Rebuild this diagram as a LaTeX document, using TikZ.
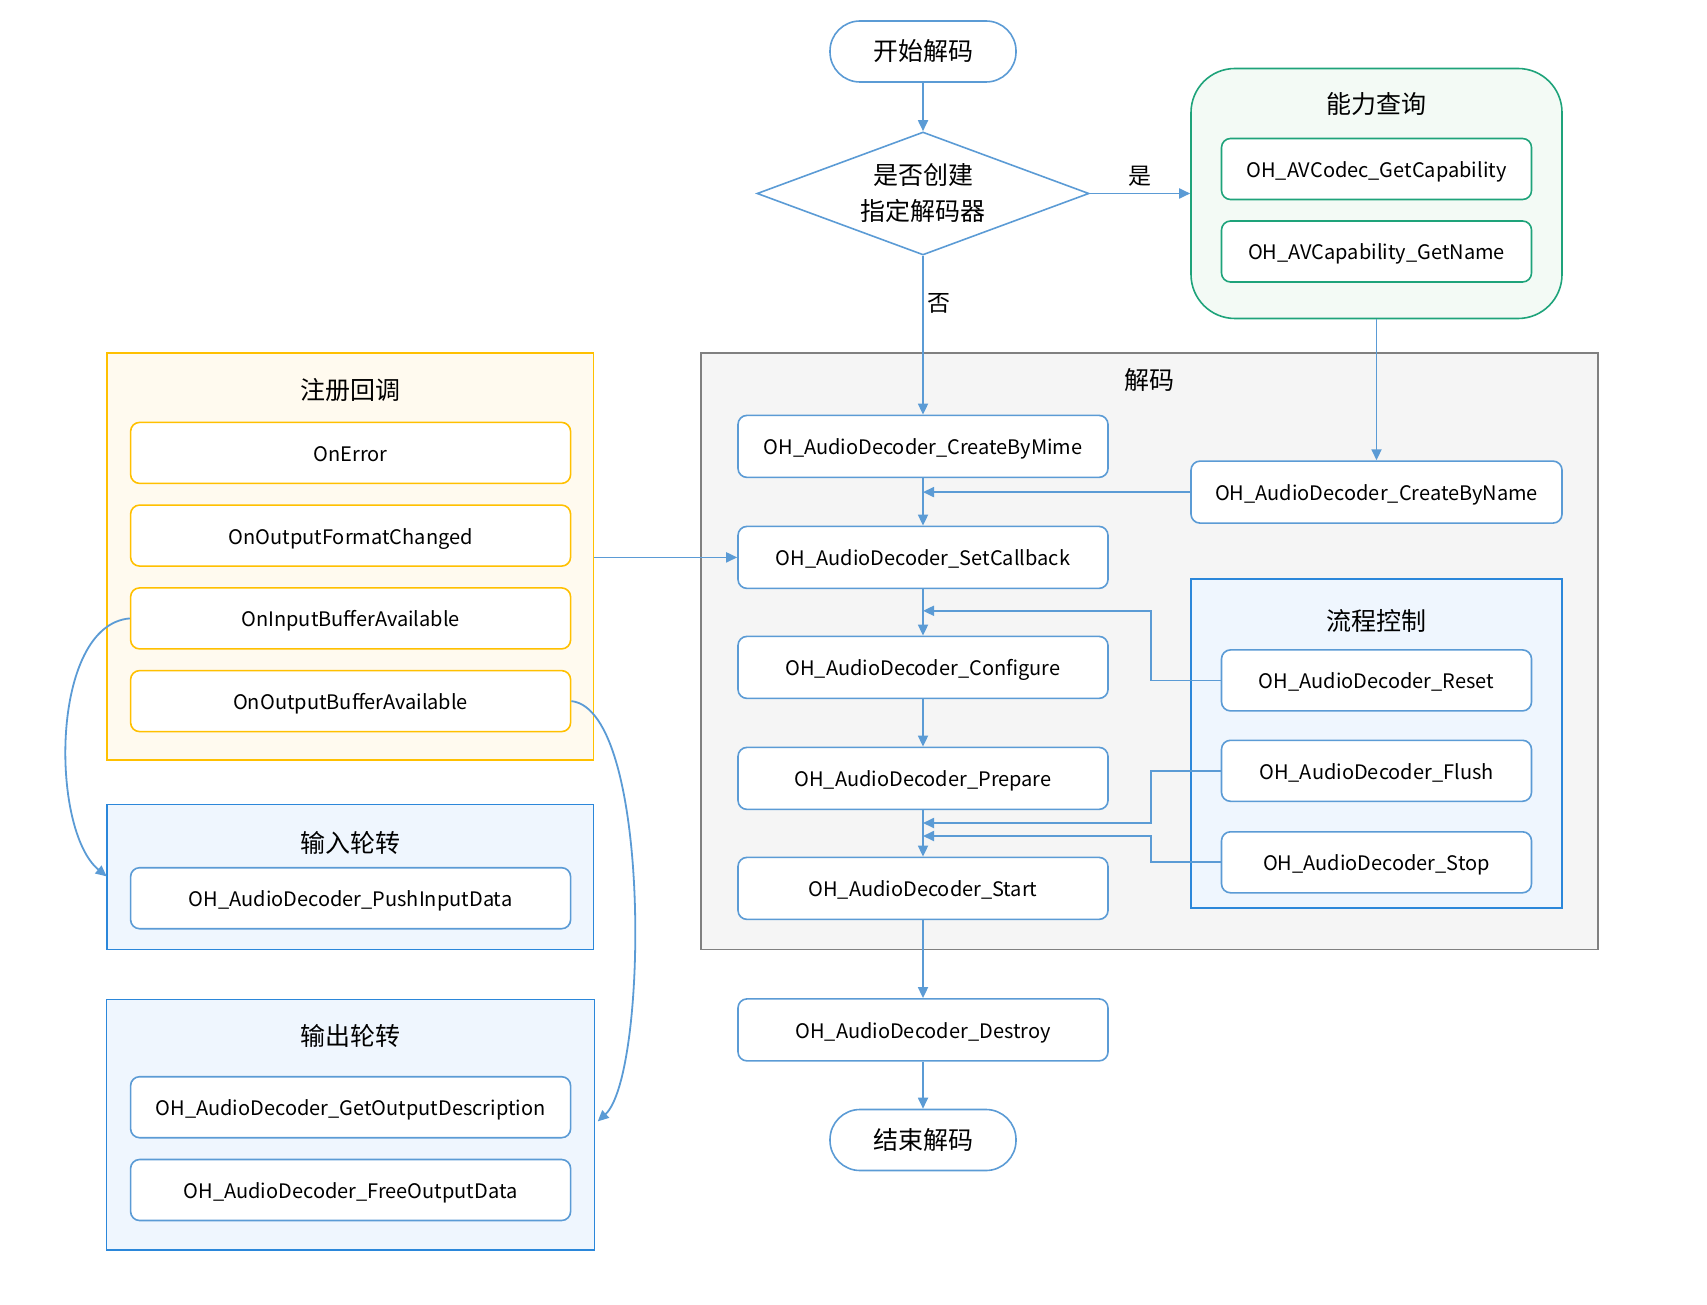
\documentclass[tikz,border=0pt]{standalone}
\usepackage{fontspec}
\setmainfont{Noto Sans CJK SC}
\usetikzlibrary{arrows.meta,shapes.geometric}
\definecolor{lblue}{RGB}{91,155,213}
\definecolor{gborder}{RGB}{128,128,128}
\definecolor{gfill}{RGB}{245,245,245}
\definecolor{grn}{RGB}{30,163,122}
\definecolor{grnfill}{RGB}{243,250,245}
\definecolor{gold}{RGB}{255,192,0}
\definecolor{goldfill}{RGB}{255,250,239}
\definecolor{gblue}{RGB}{43,135,218}
\definecolor{gbluefill}{RGB}{239,246,254}
\tikzset{
  conn/.style={draw=lblue,line width=1.8pt,-{Triangle[length=11pt,width=10pt]}},
  fbox/.style={draw=lblue,line width=1.6pt,fill=white,rounded corners=9pt,minimum width=370pt,minimum height=62pt,inner sep=0pt,text height=18pt,text depth=1pt,font=\fontsize{20}{24}\selectfont},
  sbox/.style={draw=#1,line width=1.6pt,fill=white,rounded corners=9pt,minimum width=310pt,minimum height=61pt,inner sep=0pt,text height=18pt,text depth=1pt,font=\fontsize{20}{24}\selectfont},
  lbox/.style={draw=#1,line width=1.6pt,fill=white,rounded corners=9pt,minimum width=440pt,minimum height=61pt,inner sep=0pt,text height=18pt,text depth=1pt,font=\fontsize{20}{24}\selectfont},
  term/.style={draw=lblue,line width=1.6pt,fill=white,rounded corners=30pt,minimum width=186pt,minimum height=61pt,inner sep=0pt,font=\fontsize{25}{29}\selectfont},
  grp/.style={line width=1.6pt,inner sep=0pt},
  ttl/.style={font=\fontsize{25}{29}\selectfont,inner sep=0pt},
  lbl/.style={font=\fontsize{23}{27}\selectfont,inner sep=0pt}
}
\begin{document}
\begin{tikzpicture}[x=1pt,y=-1pt]
\useasboundingbox (0,0) rectangle (1707,1305);
% group boxes
\node[grp,draw=grn,fill=grnfill,rounded corners=44pt,minimum width=371pt,minimum height=250pt] (cap) at (1376.5,193.5) {};
\node[grp,draw=gborder,fill=gfill,minimum width=897pt,minimum height=596.6pt] (dec) at (1149.5,651) {};
\node[grp,draw=gblue,fill=gbluefill,minimum width=371pt,minimum height=329pt] (flow) at (1376.5,743.5) {};
\node[grp,draw=gold,fill=goldfill,minimum width=486.6pt,minimum height=407.2pt] (reg) at (350,556.3) {};
\node[grp,draw=gblue,fill=gbluefill,minimum width=486.6pt,minimum height=145pt] (inb) at (350,877) {};
\node[grp,draw=gblue,fill=gbluefill,minimum width=487.7pt,minimum height=250.4pt] (outb) at (350.5,1124.6) {};
% titles
\node[ttl] (tcap) at (1376,104.5) {能力查询};
\node[ttl] (tdec) at (1149.7,380) {解码};
\node[ttl] (tflow) at (1376,620.6) {流程控制};
\node[ttl] (treg) at (350.6,389.8) {注册回调};
\node[ttl] (tin) at (350.6,842.7) {输入轮转};
\node[ttl] (tout) at (350.6,1036.4) {输出轮转};
% main flow
\node[term] (start) at (923,51.5) {开始解码};
\node[draw=lblue,line width=1.6pt,diamond,aspect=2.7,minimum width=332pt,minimum height=123pt,inner sep=0pt,align=center,font=\fontsize{25}{36}\selectfont] (q) at (923,193.5) {是否创建\\指定解码器};
\node[sbox=grn] (cap1) at (1376.5,169) {OH\_AVCodec\_GetCapability};
\node[sbox=grn] (cap2) at (1376.5,251.5) {OH\_AVCapability\_GetName};
\node[fbox] (mime) at (923,446.4) {OH\_AudioDecoder\_CreateByMime};
\node[fbox,minimum width=371pt] (byname) at (1376.5,492.1) {OH\_AudioDecoder\_CreateByName};
\node[fbox] (setcb) at (923,557.4) {OH\_AudioDecoder\_SetCallback};
\node[fbox] (conf) at (923,667.4) {OH\_AudioDecoder\_Configure};
\node[fbox] (prep) at (923,778.4) {OH\_AudioDecoder\_Prepare};
\node[fbox] (startn) at (923,888.4) {OH\_AudioDecoder\_Start};
\node[fbox] (destroy) at (923,1029.9) {OH\_AudioDecoder\_Destroy};
\node[term] (end) at (923,1140) {结束解码};
\node[sbox=lblue] (reset) at (1376.5,680.4) {OH\_AudioDecoder\_Reset};
\node[sbox=lblue] (flush) at (1376.5,770.8) {OH\_AudioDecoder\_Flush};
\node[sbox=lblue] (stop) at (1376.5,862.3) {OH\_AudioDecoder\_Stop};
% left
\node[lbox=gold] (onerr) at (350.6,452.9) {OnError};
\node[lbox=gold] (onfmt) at (350.6,535.6) {OnOutputFormatChanged};
\node[lbox=gold] (onin) at (350.6,618.4) {OnInputBufferAvailable};
\node[lbox=gold] (onout) at (350.6,701.1) {OnOutputBufferAvailable};
\node[lbox=lblue] (push) at (350.6,898.2) {OH\_AudioDecoder\_PushInputData};
\node[lbox=lblue] (getout) at (350.6,1107.2) {OH\_AudioDecoder\_GetOutputDescription};
\node[lbox=lblue] (free) at (350.6,1190) {OH\_AudioDecoder\_FreeOutputData};
% junction coordinates
\coordinate (jname) at (923,492.1);
\coordinate (jreset) at (923,610.8);
\coordinate (jflush) at (923,823);
\coordinate (jstop) at (923,836);
\coordinate (inend) at (106.7,876.4);
\coordinate (outend) at (597.7,1121.4);
% connectors
\draw[conn] (start) -- (q);
\draw[conn] (q.east) -- (cap.west) node[lbl,midway,above=6pt] (yes) {是};
\draw[conn] (q.south) -- (mime.north) node[lbl,pos=0.3,right=4pt] (no) {否};
\draw[conn] (cap.south) -- (byname.north);
\draw[conn] (mime) -- (setcb);
\draw[conn] (byname.west) -- (jname);
\draw[conn] (reg.east |- setcb.west) -- (setcb.west);
\draw[conn] (setcb) -- (conf);
\draw[conn] (reset.west) -- (1150.8,680.4) -- (1150.8,610.8) -- (jreset);
\draw[conn] (conf) -- (prep);
\draw[conn] (prep) -- (startn);
\draw[conn] (flush.west) -- (1150.8,770.8) -- (1150.8,823) -- (jflush);
\draw[conn] (stop.west) -- (1150.8,862.3) -- (1150.8,836) -- (jstop);
\draw[conn] (startn) -- (destroy);
\draw[conn] (destroy) -- (end);
\draw[conn] (onin.west) .. controls (50,625) and (50,830) .. (inend);
\draw[conn] (onout.east) .. controls (652,710) and (648,1075) .. (outend);
\end{tikzpicture}
\end{document}
